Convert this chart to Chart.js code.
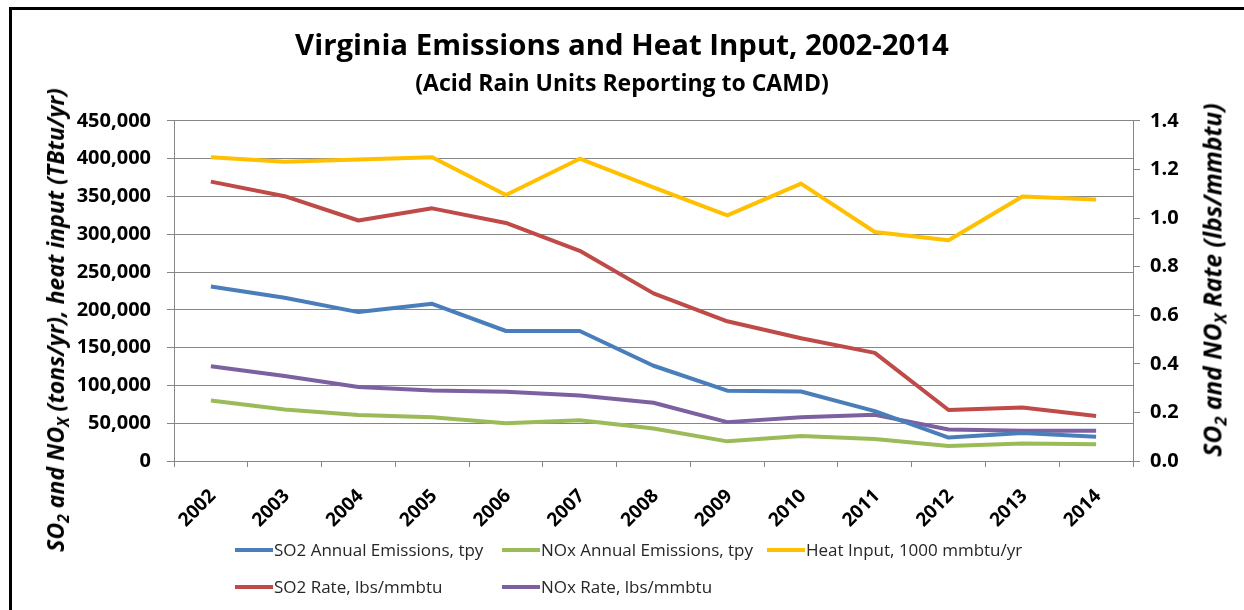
<!DOCTYPE html>
<html>
<head>
<meta charset="utf-8">
<title>Virginia Emissions and Heat Input, 2002-2014</title>
<script src="https://cdn.jsdelivr.net/npm/chart.js@4.4.1/dist/chart.umd.min.js"></script>
<style>
  html, body { margin: 0; padding: 0; background: #fff; }
  #wrap { position: relative; width: 1244px; height: 610px; overflow: hidden; font-family: "Open Sans", sans-serif; }
  #frame { position: absolute; left: 9px; top: 7px; right: -10px; bottom: -10px; border-left: 3px solid #000; border-top: 3px solid #000; }
  #chart { position: absolute; left: 0; top: 0; }
  .axis-title { position: absolute; white-space: nowrap; font: italic bold 23px "Open Sans", sans-serif; color: #000; transform: translate(-50%, -50%) rotate(-90deg); }
  .axis-title sub { font-size: 0.68em; vertical-align: -0.3em; line-height: 0; }
  #legend { position: absolute; left: 235px; top: 531px; display: grid; grid-template-columns: 267px 265px auto; grid-auto-rows: 37px; }
  .legend-item { display: flex; align-items: center; font-size: 17px; color: #262626; }
  .legend-swatch { width: 38px; height: 4px; margin-right: 1px; }
</style>
</head>
<body>
<div id="wrap">
  <div id="frame"></div>
  <canvas id="chart" width="1244" height="610"></canvas>
  <div class="axis-title" style="left:55px; top:320px;">SO<sub>2</sub> and NO<sub>X</sub> (tons/yr), heat input (TBtu/yr)</div>
  <div class="axis-title" style="left:1212px; top:280px; font-size:24.5px;">SO<sub>2</sub> and NO<sub>X</sub> Rate (lbs/mmbtu)</div>
  <div id="legend"></div>
</div>
<script>
// ================================
// DATA
// ================================

const years = ["2002", "2003", "2004", "2005", "2006", "2007", "2008", "2009", "2010", "2011", "2012", "2013", "2014"];

// tons per year / 1000 mmbtu per year (left axis)
const so2Tons = [231000, 216000, 197000, 208000, 172000, 172000, 126000, 93000, 92000, 66000, 31000, 37000, 32000];
const noxTons = [80000, 68000, 61000, 58000, 50000, 54000, 43000, 26000, 33000, 29000, 20000, 23000, 22000];
const heatInput = [402000, 396000, 399000, 402000, 352000, 400000, 362000, 325000, 367000, 303000, 292000, 350000, 346000];

// lbs/mmbtu (right axis)
const so2Rate = [1.15, 1.09, 0.99, 1.04, 0.98, 0.865, 0.69, 0.575, 0.505, 0.445, 0.21, 0.22, 0.185];
const noxRate = [0.39, 0.35, 0.305, 0.29, 0.285, 0.27, 0.24, 0.16, 0.18, 0.19, 0.13, 0.125, 0.125];

// axis ranges
const leftMax = 450000;
const leftStep = 50000;
const rightMax = 1.4;
const rightStep = 0.2;

// ================================
// CHART
// ================================

Chart.defaults.font.family = "'Open Sans', sans-serif";
Chart.defaults.color = "#000";

const gridGray = "#868686";

function line(label, data, color, axis) {
    return {
        label: label,
        data: data,
        yAxisID: axis,
        borderColor: color,
        backgroundColor: color,
        borderWidth: 4,
        tension: 0,
        pointRadius: 0,
        borderJoinStyle: "round",
        fill: false
    };
}

const chart = new Chart(document.getElementById("chart"), {
    type: "line",

    data: {
        labels: years,
        datasets: [
            line("SO2 Annual Emissions, tpy", so2Tons, "#4a7ebb", "y"),
            line("NOx Annual Emissions, tpy", noxTons, "#9bbb59", "y"),
            line("Heat Input, 1000 mmbtu/yr", heatInput, "#ffc000", "y"),
            line("SO2 Rate, lbs/mmbtu", so2Rate, "#be4b48", "y2"),
            line("NOx Rate, lbs/mmbtu", noxRate, "#7d60a0", "y2")
        ]
    },

    options: {
        responsive: false,
        animation: false,
        devicePixelRatio: 1,
        layout: { padding: 0 },

        plugins: {
            legend: { display: false },
            tooltip: { enabled: false },
            title: {
                display: true,
                text: "Virginia Emissions and Heat Input, 2002-2014",
                font: { size: 29.4, weight: "bold" },
                padding: { top: 29, bottom: 0 }
            },
            subtitle: {
                display: true,
                text: "(Acid Rain Units Reporting to CAMD)",
                color: "#000",
                font: { size: 23, weight: "bold" },
                padding: { top: 6, bottom: 23 }
            }
        },

        scales: {
            x: {
                offset: true,
                grid: { offset: true, drawOnChartArea: false, tickLength: 6, color: gridGray },
                border: { color: gridGray },
                ticks: {
                    autoSkip: false,
                    minRotation: 45,
                    maxRotation: 45,
                    padding: 18,
                    labelOffset: 2,
                    font: { size: 19, weight: "bold" }
                },
                afterFit: s => { s.height = 149; }
            },

            y: {
                position: "left",
                min: 0,
                max: leftMax,
                grid: { color: gridGray, tickLength: 7 },
                border: { color: gridGray },
                ticks: {
                    stepSize: leftStep,
                    padding: 16,
                    font: { size: 20, weight: "bold" },
                    callback: v => v.toLocaleString("en-US")
                },
                afterFit: s => { s.width = 174; }
            },

            y2: {
                position: "right",
                min: 0,
                max: rightMax,
                grid: { drawOnChartArea: false, color: gridGray, tickLength: 7 },
                border: { color: gridGray },
                ticks: {
                    stepSize: rightStep,
                    padding: 10,
                    font: { size: 20, weight: "bold" },
                    callback: v => v.toFixed(1)
                },
                afterFit: s => { s.width = 111; }
            }
        }
    }
});

// ================================
// LEGEND (Excel style grid)
// ================================

const legendBox = document.getElementById("legend");

chart.data.datasets.forEach(ds => {
    const item = document.createElement("div");
    item.className = "legend-item";

    const swatch = document.createElement("span");
    swatch.className = "legend-swatch";
    swatch.style.background = ds.borderColor;

    item.appendChild(swatch);
    item.appendChild(document.createTextNode(ds.label));
    legendBox.appendChild(item);
});
</script>
</body>
</html>
